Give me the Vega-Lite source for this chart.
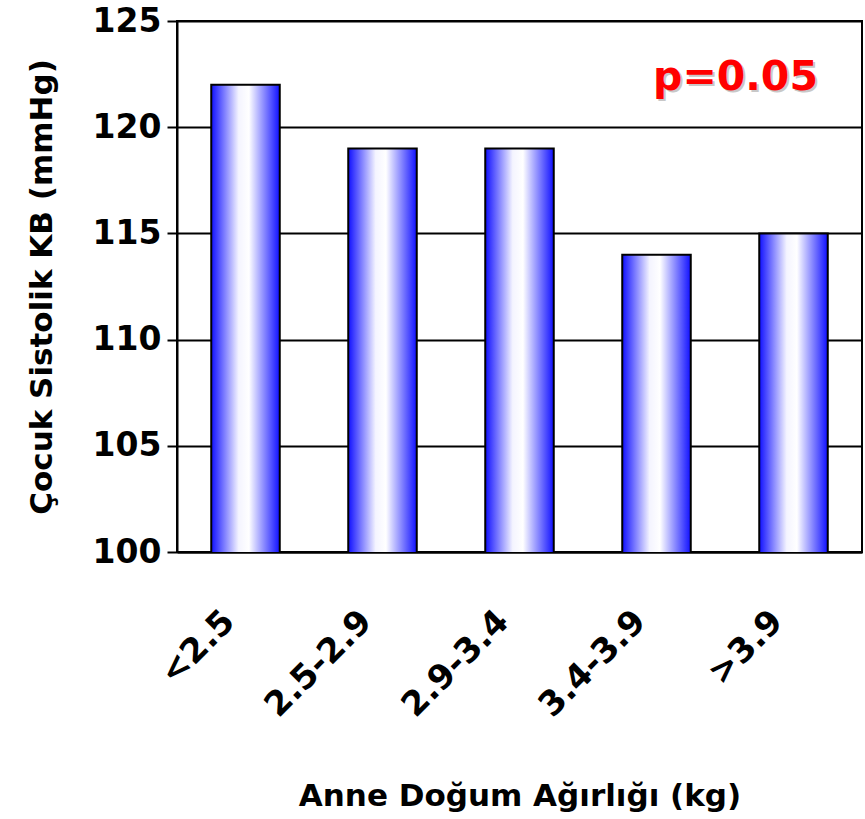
{
  "$schema": "https://vega.github.io/schema/vega-lite/v6.json",
  "width": 685,
  "height": 531,
  "autosize": {"type": "none"},
  "padding": {"left": 177, "top": 21, "right": 3, "bottom": 267},
  "background": "white",
  "config": {
    "view": {"stroke": "black", "strokeWidth": 2},
    "font": "DejaVu Sans"
  },
  "data": {
    "values": [
      {"grup": "<2.5", "kb": 122},
      {"grup": "2.5-2.9", "kb": 119},
      {"grup": "2.9-3.4", "kb": 119},
      {"grup": "3.4-3.9", "kb": 114},
      {"grup": ">3.9", "kb": 115}
    ]
  },
  "layer": [
    {
      "mark": {
        "type": "bar",
        "clip": true,
        "stroke": "black",
        "strokeWidth": 2,
        "color": {
          "gradient": "linear",
          "x1": 0, "y1": 0, "x2": 1, "y2": 0,
          "stops": [
            {"offset": 0, "color": "#1010ff"},
            {"offset": 0.4, "color": "#f4f4ff"},
            {"offset": 0.55, "color": "#ffffff"},
            {"offset": 1, "color": "#1010ff"}
          ]
        }
      },
      "encoding": {
        "x": {
          "field": "grup", "type": "nominal", "sort": null,
          "scale": {"domain": ["<2.5", "2.5-2.9", "2.9-3.4", "3.4-3.9", ">3.9"], "paddingInner": 0.5, "paddingOuter": 0.25},
          "axis": {
            "title": "Anne Doğum Ağırlığı (kg)",
            "titleFontSize": 31, "titleFontWeight": "bold", "titleColor": "black",
            "titlePadding": 58,
            "labelAngle": -45, "labelFontSize": 34, "labelFontWeight": "bold", "labelColor": "black",
            "labelPadding": 52, "labelOffset": -28, "ticks": false, "domainColor": "black", "domainWidth": 2
          }
        },
        "y": {
          "field": "kb", "type": "quantitative",
          "scale": {"domain": [100, 125], "nice": false, "zero": false},
          "axis": {
            "title": "Çocuk Sistolik KB (mmHg)",
            "titleFontSize": 31, "titleFontWeight": "bold", "titleColor": "black",
            "titlePadding": 34,
            "values": [100, 105, 110, 115, 120, 125],
            "labelFontSize": 33, "labelFontWeight": "bold", "labelColor": "black",
            "labelPadding": 6,
            "tickSize": 10, "tickColor": "black", "tickWidth": 2,
            "grid": true, "gridColor": "black", "gridWidth": 2, "gridOpacity": 1,
            "domainColor": "black", "domainWidth": 2
          }
        }
      }
    },
    {
      "data": {"values": [{"grup": ">3.9", "y": 122.3, "t": "p=0.05"}]},
      "mark": {"type": "text", "fontSize": 41, "fontWeight": "bold", "color": "#c8c8c8", "dx": -56, "dy": 2, "baseline": "middle", "align": "center"},
      "encoding": {
        "x": {"field": "grup", "type": "nominal", "sort": null},
        "y": {"field": "y", "type": "quantitative"},
        "text": {"field": "t"}
      }
    },
    {
      "data": {"values": [{"grup": ">3.9", "y": 122.3, "t": "p=0.05"}]},
      "mark": {"type": "text", "fontSize": 41, "fontWeight": "bold", "color": "#ff0000", "dx": -58, "dy": 0, "baseline": "middle", "align": "center"},
      "encoding": {
        "x": {"field": "grup", "type": "nominal", "sort": null},
        "y": {"field": "y", "type": "quantitative"},
        "text": {"field": "t"}
      }
    }
  ]
}
